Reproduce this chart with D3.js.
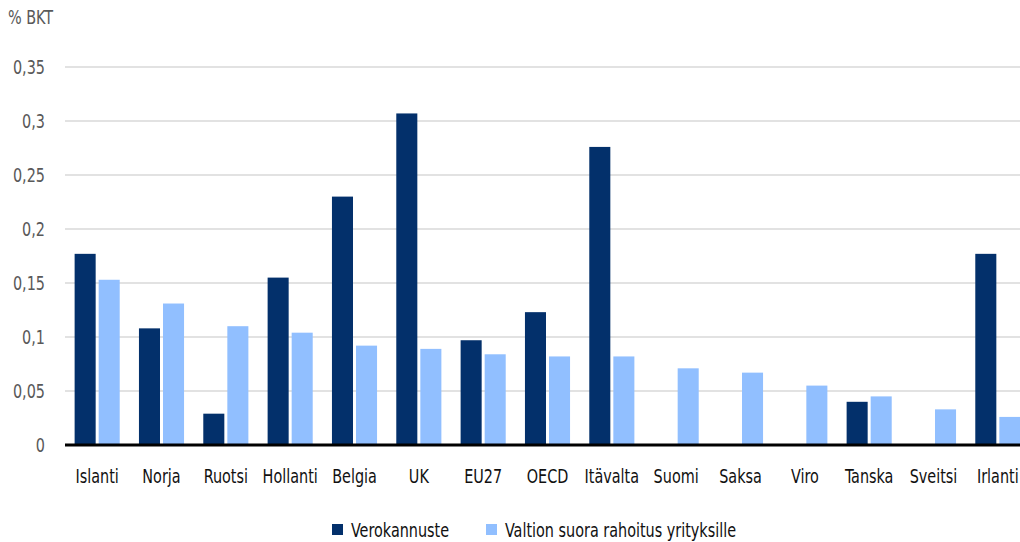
<!DOCTYPE html>
<meta charset="utf-8">
<script src="https://d3js.org/d3.v7.min.js"></script>
<style>
  body { margin: 0; background: #fff; }
  text { font-family: "DejaVu Sans Condensed", "DejaVu Sans", sans-serif; font-size: 20px; }
</style>
<body>
<div id="my_dataviz"></div>
<script>

// data
var maat = ["Islanti", "Norja", "Ruotsi", "Hollanti", "Belgia", "UK", "EU27", "OECD",
            "Itävalta", "Suomi", "Saksa", "Viro", "Tanska", "Sveitsi", "Irlanti"]
var sarjat = ["Verokannuste", "Valtion suora rahoitus yrityksille"]
var verokannuste = [0.177, 0.108, 0.029, 0.155, 0.230, 0.307, 0.097, 0.123,
                    0.276, 0, 0, 0, 0.040, 0, 0.177]
var suoraRahoitus = [0.153, 0.131, 0.110, 0.104, 0.092, 0.089, 0.084, 0.082,
                     0.082, 0.071, 0.067, 0.055, 0.045, 0.033, 0.026]
var yTicks = [0, 0.05, 0.1, 0.15, 0.2, 0.25, 0.3, 0.35]
var colors = ["#03306b", "#91bfff"]

var width = 1020
var height = 542
var sx = 0.8   // squeeze text to look like the condensed font of the original

var svg = d3.select("#my_dataviz")
  .append("svg")
    .attr("width", width)
    .attr("height", height)

var x = d3.scaleBand()
  .domain(maat)
  .range([65, 1030])

var xSub = d3.scaleBand()
  .domain(sarjat)
  .range([0, x.bandwidth()])
  .paddingInner(0.125)
  .paddingOuter(0.4)

var y = d3.scaleLinear()
  .domain([0, 0.35])
  .range([445, 67])

var fmt = function(d){ return String(d).replace(".", ",") }
var place = function(px, py){ return "translate(" + px + "," + py + ") scale(" + sx + ",1)" }

// gridlines
svg.selectAll("grid")
  .data(yTicks.slice(1))
  .enter()
  .append("line")
    .attr("x1", 65)
    .attr("x2", width)
    .attr("y1", function(d){ return y(d) })
    .attr("y2", function(d){ return y(d) })
    .attr("stroke", "#d9d9d9")
    .attr("stroke-width", 1.3)

// y tick labels
svg.selectAll("ylab")
  .data(yTicks)
  .enter()
  .append("text")
    .attr("transform", function(d){ return place(45, y(d)) })
    .attr("dy", "0.35em")
    .attr("text-anchor", "end")
    .style("fill", "#595959")
    .text(fmt)

svg.append("text")
  .attr("transform", place(8, 24))
  .style("fill", "#595959")
  .text("% BKT")

// bars
var rows = maat.map(function(m, i){
  return { maa: m, arvot: [verokannuste[i], suoraRahoitus[i]] }
})

var groups = svg.selectAll("g.maa")
  .data(rows)
  .enter()
  .append("g")
    .attr("class", "maa")
    .attr("transform", function(d){ return "translate(" + x(d.maa) + ",0)" })

groups.selectAll("rect")
  .data(function(d){ return d.arvot.map(function(v, j){ return { s: sarjat[j], v: v, j: j } }) })
  .enter()
  .filter(function(d){ return d.v > 0 })
  .append("rect")
    .attr("x", function(d){ return xSub(d.s) })
    .attr("width", xSub.bandwidth())
    .attr("y", function(d){ return y(d.v) })
    .attr("height", function(d){ return y(0) - y(d.v) })
    .attr("fill", function(d){ return colors[d.j] })

// baseline
svg.append("line")
  .attr("x1", 65)
  .attr("x2", width)
  .attr("y1", y(0))
  .attr("y2", y(0))
  .attr("stroke", "#000")
  .attr("stroke-width", 3)

// x labels
svg.selectAll("xlab")
  .data(maat)
  .enter()
  .append("text")
    .attr("transform", function(d){ return place(x(d) + x.bandwidth() / 2, 483) })
    .attr("text-anchor", "middle")
    .style("fill", "#111")
    .text(function(d){ return d })

// legend
var legX = [332, 486]
svg.selectAll("legbox")
  .data(sarjat)
  .enter()
  .append("rect")
    .attr("x", function(d, i){ return legX[i] })
    .attr("y", 524)
    .attr("width", 11)
    .attr("height", 11)
    .attr("fill", function(d, i){ return colors[i] })

svg.selectAll("legtext")
  .data(sarjat)
  .enter()
  .append("text")
    .attr("transform", function(d, i){ return place(legX[i] + 19, 537) })
    .style("fill", "#111")
    .text(function(d){ return d })
</script>
</body>
